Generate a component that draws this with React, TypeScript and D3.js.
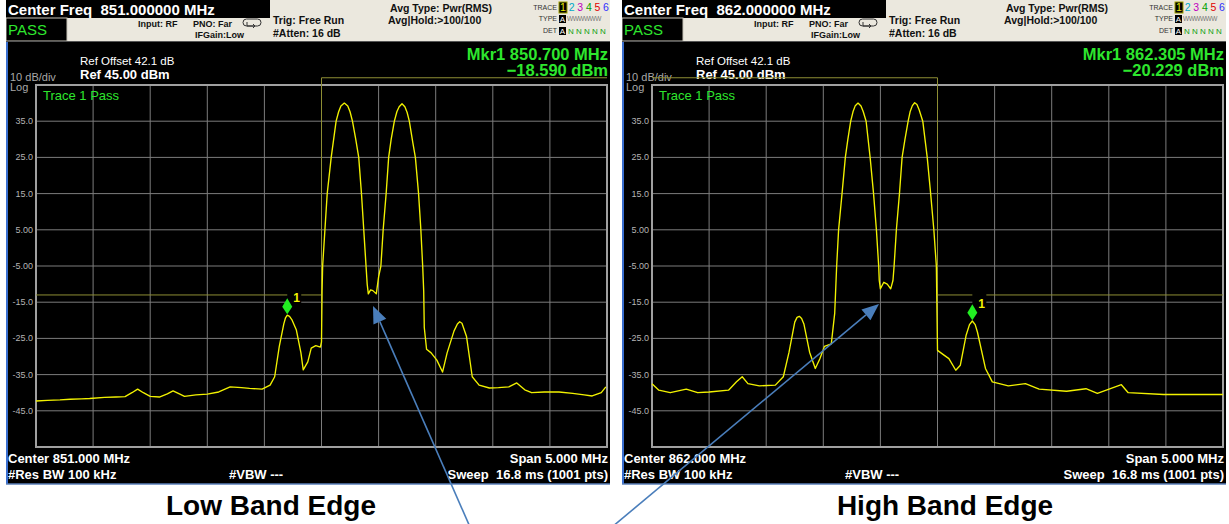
import React from "react";
import * as d3 from "d3";

// ---------- data ----------
const lowFreq = [848.5, 848.6, 848.71, 848.8, 848.9, 848.97, 849.1, 849.2, 849.28, 849.34, 849.39, 849.44, 849.5, 849.58, 849.65, 849.7, 849.76, 849.8, 849.9, 850.0, 850.1, 850.2, 850.3, 850.37, 850.48, 850.55, 850.59, 850.63, 850.67, 850.685, 850.7, 850.72, 850.74, 850.78, 850.82, 850.84, 850.88, 850.91, 850.95, 850.99, 851.0, 851.005, 851.01, 851.03, 851.05, 851.085, 851.128, 851.15, 851.17, 851.2, 851.23, 851.25, 851.271, 851.3, 851.326, 851.35, 851.37, 851.39, 851.4, 851.41, 851.43, 851.45, 851.48, 851.5, 851.52, 851.54, 851.566, 851.588, 851.61, 851.638, 851.66, 851.68, 851.705, 851.73, 851.75, 851.769, 851.8, 851.822, 851.85, 851.87, 851.886, 851.895, 851.9, 851.92, 851.96, 852.01, 852.06, 852.1, 852.16, 852.19, 852.21, 852.23, 852.27, 852.32, 852.38, 852.47, 852.55, 852.64, 852.71, 852.78, 852.84, 852.95, 853.08, 853.2, 853.3, 853.37, 853.45, 853.49];
const lowLevel = [-42.3, -42.1, -42.0, -41.8, -41.7, -41.6, -41.3, -41.2, -41.1, -40.0, -39.0, -40.0, -41.0, -41.2, -40.3, -39.5, -40.4, -41.0, -40.6, -40.4, -39.8, -38.4, -38.6, -38.8, -39.0, -37.9, -35.6, -27.3, -21.0, -19.3, -18.6, -18.9, -19.8, -22.7, -29.0, -33.7, -31.5, -27.7, -27.0, -27.4, -26.0, -12.0, -5.0, 5.0, 15.0, 25.0, 35.0, 37.6, 39.2, 40.0, 39.2, 37.6, 35.0, 30.0, 25.0, 15.0, 5.0, -5.0, -10.0, -12.7, -11.6, -11.8, -12.7, -8.0, -5.0, 5.0, 15.0, 25.0, 30.0, 35.0, 37.6, 39.0, 39.8, 39.0, 37.4, 35.0, 29.0, 25.0, 15.0, 5.0, -5.0, -12.0, -22.0, -28.0, -29.0, -31.0, -34.3, -29.0, -23.0, -21.0, -20.4, -20.8, -24.5, -35.6, -37.9, -38.7, -38.6, -38.4, -37.3, -39.2, -40.0, -39.8, -39.8, -40.2, -40.6, -40.9, -40.0, -38.4];

const highFreq = [859.5, 859.56, 859.66, 859.8, 859.9, 860.0, 860.17, 860.24, 860.29, 860.34, 860.44, 860.58, 860.65, 860.7, 860.75, 860.77, 860.79, 860.81, 860.83, 860.88, 860.93, 860.97, 861.01, 861.07, 861.1, 861.117, 861.134, 861.164, 861.193, 861.215, 861.24, 861.26, 861.28, 861.304, 861.33, 861.35, 861.375, 861.41, 861.44, 861.465, 861.485, 861.49, 861.5, 861.53, 861.56, 861.59, 861.61, 861.62, 861.64, 861.667, 861.69, 861.715, 861.743, 861.76, 861.78, 861.8, 861.82, 861.84, 861.871, 861.91, 861.94, 861.968, 861.99, 862.0, 862.06, 862.1, 862.16, 862.2, 862.25, 862.28, 862.305, 862.33, 862.35, 862.42, 862.48, 862.62, 862.77, 862.89, 863.13, 863.3, 863.4, 863.61, 863.67, 863.98, 864.25, 864.5];
const highLevel = [-37.5, -39.3, -40.0, -39.0, -40.0, -39.8, -39.3, -37.0, -35.6, -37.5, -38.1, -37.9, -35.6, -28.8, -20.5, -19.2, -18.9, -19.5, -21.0, -28.8, -33.3, -30.6, -27.2, -26.5, -18.0, -5.0, 5.0, 15.0, 25.0, 30.0, 35.0, 37.6, 39.3, 40.0, 39.2, 37.6, 35.0, 25.0, 15.0, 5.0, -5.0, -9.0, -11.3, -9.5, -10.0, -11.3, -9.0, -5.0, 5.0, 15.0, 25.0, 30.0, 35.0, 37.6, 39.3, 40.1, 39.6, 38.1, 35.0, 25.0, 15.0, 5.0, -5.0, -28.3, -29.7, -30.6, -33.8, -32.4, -24.2, -21.2, -20.2, -21.2, -23.3, -33.3, -37.0, -38.1, -37.5, -39.0, -39.6, -38.9, -40.2, -37.8, -40.0, -40.5, -40.5, -40.5];

const lowLimitFreq = [848.5, 851.0, 851.0, 853.5];
const lowLimitLevel = [-13, -13, 47, 47];
const highLimitFreq = [859.5, 862.0, 862.0, 864.5];
const highLimitLevel = [47, 47, -13, -13];

const centerFreqs = [851, 862];
const markerFreqs = [850.7, 862.305];
const markerLevels = [-18.59, -20.229];
const captions = ["Low Band Edge", "High Band Edge"];

const yTickValues = [35, 25, 15, 5, -5, -15, -25, -35, -45];
const yTickLabels = ["35.0", "25.0", "15.0", "5.00", "-5.00", "-15.0", "-25.0", "-35.0", "-45.0"];
const traceDigits = ["1", "2", "3", "4", "5", "6"];
const traceDigitColors = ["#e8e800", "#00a8c8", "#c000c0", "#00a000", "#e00000", "#3030ff"];

const FONT = "'Liberation Sans', Arial, sans-serif";
const GREEN = "#2ee62e";
const TRACE = "#f2f200";
const LIMIT = "#8e8e34";

type PanelProps = {
  ox: number;
  center: number;
  freq: number[];
  level: number[];
  limF: number[];
  limL: number[];
  mF: number;
  mL: number;
  caption: string;
  captionX: number;
};

function Panel({ ox, center, freq, level, limF, limL, mF, mL, caption, captionX }: PanelProps) {
  const x = d3.scaleLinear().domain([center - 2.5, center + 2.5]).range([ox + 36, ox + 607]);
  const y = d3.scaleLinear().domain([-55, 45]).range([447, 85]);
  const line = d3
    .line<[number, number]>()
    .x((d) => x(d[0]))
    .y((d) => y(d[1]));
  const pts = freq.map((f, i) => [f, level[i]] as [number, number]);
  const lim = limF.map((f, i) => [f, limL[i]] as [number, number]);
  const xGrid = d3.range(1, 10).map((i) => center - 2.5 + i * 0.5);
  const yGrid = d3.range(1, 10).map((i) => -55 + i * 10);
  const f6 = d3.format(".6f");
  const f3 = d3.format(".3f");
  const mx = x(mF);
  const my = y(mL);
  const clipId = `clip${ox}`;
  return (
    <g fontFamily={FONT}>
      <defs>
        <clipPath id={clipId}>
          <rect x={ox + 6} y={0} width={604} height={486} />
        </clipPath>
      </defs>
      <g clipPath={`url(#${clipId})`}>
        {/* header */}
        <rect x={ox + 6} y={0} width={604} height={42} fill="#ebe8de" />
        <rect x={ox + 6} y={0} width={264} height={18} fill="#000" />
        <text x={ox + 8} y={15} fill="#fff" fontSize={15} fontWeight="bold" style={{ whiteSpace: "pre" }}>
          {`Center Freq  ${f6(center)} MHz`}
        </text>
        <rect x={ox + 6} y={18} width={61} height={23} fill="#000" stroke="#c8c4b8" strokeWidth={1} />
        <text x={ox + 8} y={35} fill={GREEN} fontSize={15}>PASS</text>
        <text x={ox + 138} y={27} fontSize={9} fontWeight="bold" fill="#111">Input: RF</text>
        <text x={ox + 193} y={27} fontSize={9} fontWeight="bold" fill="#111">PNO: Far</text>
        <text x={ox + 195} y={38} fontSize={9} fontWeight="bold" fill="#111">IFGain:Low</text>
        <rect x={ox + 243} y={19} width={18} height={7} rx={3.5} fill="none" stroke="#333" strokeWidth={1} />
        <path d={`M${ox + 247},${22} l0,4 l8,0 m-2,-2 l2,2 l-2,2`} fill="none" stroke="#333" strokeWidth={1} />
        <text x={ox + 273} y={24} fontSize={10.5} fontWeight="bold" fill="#111">Trig: Free Run</text>
        <text x={ox + 273} y={37} fontSize={10.5} fontWeight="bold" fill="#111">#Atten: 16 dB</text>
        <text x={ox + 390} y={12} fontSize={10.5} fontWeight="bold" fill="#111">Avg Type: Pwr(RMS)</text>
        <text x={ox + 388} y={24} fontSize={10.5} fontWeight="bold" fill="#111">Avg|Hold:&gt;100/100</text>
        <text x={ox + 557} y={10} fontSize={7} fill="#333" textAnchor="end">TRACE</text>
        <text x={ox + 557} y={21} fontSize={7} fill="#333" textAnchor="end">TYPE</text>
        <text x={ox + 557} y={33} fontSize={7} fill="#333" textAnchor="end">DET</text>
        <rect x={ox + 559} y={2} width={8} height={11} fill="#000" stroke="#a0a000" strokeWidth={1} />
        {traceDigits.map((d, i) => (
          <text key={d} x={ox + 563 + i * 8.6} y={11} fontSize={10.5} fill={traceDigitColors[i]} textAnchor="middle">
            {d}
          </text>
        ))}
        <rect x={ox + 559} y={15} width={7} height={8} fill="#000" />
        <text x={ox + 562.5} y={22} fontSize={8} fill="#fff" textAnchor="middle">A</text>
        <text x={ox + 567} y={21} fontSize={6.5} fill="#777" letterSpacing={-0.5}>WWWWWW</text>
        <rect x={ox + 559} y={27} width={7} height={8} fill="#000" />
        <text x={ox + 562.5} y={34} fontSize={8} fill="#fff" textAnchor="middle">A</text>
        <text x={ox + 568} y={34} fontSize={8} fill="#10a010" style={{ whiteSpace: "pre" }}>N N N N N</text>

        {/* black screen */}
        <rect x={ox + 6} y={42} width={604} height={442} fill="#000" />
        <line x1={ox + 6} x2={ox + 610} y1={41.5} y2={41.5} stroke="#555" strokeWidth={1} />
        <line x1={ox + 7} x2={ox + 7} y1={42} y2={484} stroke="#3a6fd0" strokeWidth={2} />
        <line x1={ox + 6} x2={ox + 610} y1={484} y2={484} stroke="#5a7fb8" strokeWidth={1.5} />

        <text x={ox + 80} y={65} fontSize={11.5} fill="#fff">Ref Offset 42.1 dB</text>
        <text x={ox + 80} y={79} fontSize={13} fontWeight="bold" fill="#fff">Ref 45.00 dBm</text>
        <text x={ox + 10} y={81} fontSize={11} fill="#a8a8a8">10 dB/div</text>
        <text x={ox + 10} y={91} fontSize={11} fill="#a8a8a8">Log</text>
        <text x={ox + 608} y={60} fontSize={16.5} fontWeight="bold" fill={GREEN} textAnchor="end">
          {`Mkr1 ${f3(mF)} MHz`}
        </text>
        <text x={ox + 608} y={76} fontSize={16.5} fontWeight="bold" fill={GREEN} textAnchor="end">
          {`${f3(mL)} dBm`}
        </text>

        {/* grid */}
        {xGrid.map((g) => (
          <line key={`vx${g}`} x1={x(g)} x2={x(g)} y1={y(45)} y2={y(-55)} stroke="#7c7c7c" strokeWidth={1} />
        ))}
        {yGrid.map((g) => (
          <line key={`hy${g}`} x1={x(center - 2.5)} x2={x(center + 2.5)} y1={y(g)} y2={y(g)} stroke="#7c7c7c" strokeWidth={1} />
        ))}
        <rect
          x={x(center - 2.5)}
          y={y(45)}
          width={x(center + 2.5) - x(center - 2.5)}
          height={y(-55) - y(45)}
          fill="none"
          stroke="#a0a0a0"
          strokeWidth={2}
        />
        {yTickValues.map((v, i) => (
          <text key={`yt${v}`} x={ox + 33} y={y(v) + 3} fontSize={9} fill="#b4b4b4" textAnchor="end">
            {yTickLabels[i]}
          </text>
        ))}
        <text x={ox + 43} y={100} fontSize={13} fill={GREEN}>Trace 1 Pass</text>

        {/* limit line */}
        <path d={line(lim) || ""} fill="none" stroke={LIMIT} strokeWidth={1} />
        {/* trace */}
        <path d={line(pts) || ""} fill="none" stroke={TRACE} strokeWidth={1.35} strokeLinejoin="round" />
        {/* marker */}
        <rect x={mx} y={my - 28} width={14} height={17} fill="#000" />
        <text x={mx + 6} y={my - 13} fontSize={12} fontWeight="bold" fill={TRACE}>1</text>
        <path d={`M${mx},${my - 1} L${mx + 5},${my - 8.5} L${mx},${my - 17} L${mx - 5},${my - 8.5} Z`} fill="#22ee22" />

        {/* bottom annotations */}
        <text x={ox + 8} y={463} fontSize={13} fontWeight="bold" fill="#fff">{`Center ${f3(center)} MHz`}</text>
        <text x={ox + 8} y={479} fontSize={13} fontWeight="bold" fill="#fff">#Res BW 100 kHz</text>
        <text x={ox + 229} y={479} fontSize={13} fontWeight="bold" fill="#fff">#VBW ---</text>
        <text x={ox + 608} y={463} fontSize={13} fontWeight="bold" fill="#fff" textAnchor="end">Span 5.000 MHz</text>
        <text x={ox + 608} y={479} fontSize={13} fontWeight="bold" fill="#fff" textAnchor="end" style={{ whiteSpace: "pre" }}>
          Sweep  16.8 ms (1001 pts)
        </text>
      </g>
      <text x={captionX} y={515} fontSize={28} fontWeight="bold" fill="#000" textAnchor="middle">{caption}</text>
    </g>
  );
}

function Arrow({ x1, y1, x2, y2 }: { x1: number; y1: number; x2: number; y2: number }) {
  const ang = Math.atan2(y2 - y1, x2 - x1);
  const len = 17;
  const hw = 7;
  const bx = x2 - len * Math.cos(ang);
  const by = y2 - len * Math.sin(ang);
  const px = -Math.sin(ang) * hw;
  const py = Math.cos(ang) * hw;
  return (
    <g>
      <line x1={x1} y1={y1} x2={bx} y2={by} stroke="#4a7ebb" strokeWidth={1.6} />
      <path d={`M${x2},${y2} L${bx + px},${by + py} L${bx - px},${by - py} Z`} fill="#4a7ebb" />
    </g>
  );
}

export default function App() {
  return (
    <svg
      width={1229}
      height={524}
      viewBox="0 0 1229 524"
      style={{ position: "absolute", left: 0, top: 0, background: "#fff" }}
    >
      <rect x={0} y={0} width={1229} height={524} fill="#fff" />
      <Panel
        ox={0}
        center={centerFreqs[0]}
        freq={lowFreq}
        level={lowLevel}
        limF={lowLimitFreq}
        limL={lowLimitLevel}
        mF={markerFreqs[0]}
        mL={markerLevels[0]}
        caption={captions[0]}
        captionX={271}
      />
      <Panel
        ox={616}
        center={centerFreqs[1]}
        freq={highFreq}
        level={highLevel}
        limF={highLimitFreq}
        limL={highLimitLevel}
        mF={markerFreqs[1]}
        mL={markerLevels[1]}
        caption={captions[1]}
        captionX={945}
      />
      <Arrow x1={470} y1={527} x2={373} y2={306} />
      <Arrow x1={612} y1={527} x2={879} y2={304} />
    </svg>
  );
}
